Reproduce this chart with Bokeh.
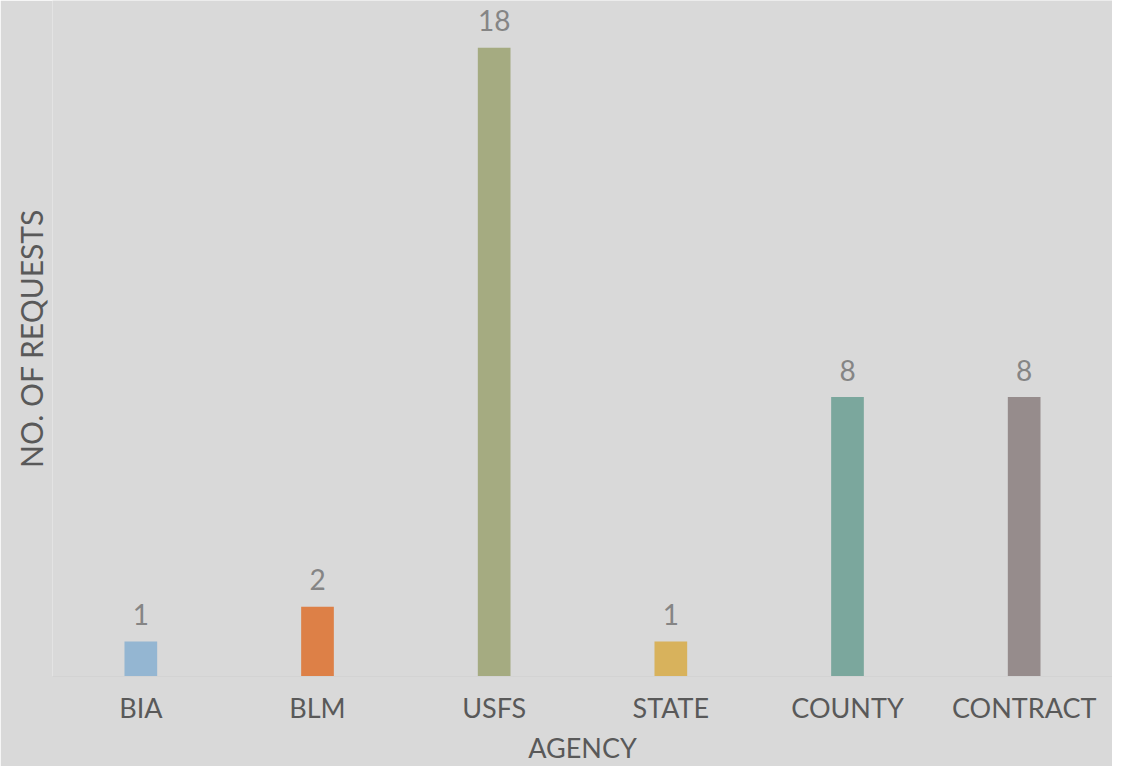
from bokeh.plotting import figure
from bokeh.models import ColumnDataSource, FactorRange, Range1d, FixedTicker
from bokeh.embed import file_html
from bokeh.resources import INLINE
from bokeh.core.properties import value

# Data
agencies = ["BIA", "BLM", "USFS", "STATE", "COUNTY", "CONTRACT"]
requests = [1, 2, 18, 1, 8, 8]
bar_colors = ["#94b6d2", "#dd8047", "#a5ab81", "#d8b25c", "#7ba79d", "#968c8c"]

BG = "#d9d9d9"
FONT = "Lato"

src = ColumnDataSource(dict(
    agency=agencies,
    n=requests,
    color=bar_colors,
    label=[str(v) for v in requests],
))

p = figure(
    width=1112, height=766,
    x_range=FactorRange(factors=agencies, range_padding=0),
    y_range=Range1d(0, 19.35),
    output_backend="svg", toolbar_location=None,
    background_fill_color=BG, border_fill_color=BG,
    outline_line_color=None,
    min_border_top=0, min_border_right=0,
    min_border_left=52, min_border_bottom=80,
)

p.vbar(x="agency", top="n", width=0.185, color="color", line_color=None, source=src)

p.text(x="agency", y="n", text="label", source=src,
       text_align="center", text_baseline="alphabetic", y_offset=-27,
       text_font=value(FONT), text_font_size="28px", text_color="#858585")

p.xgrid.grid_line_color = None
p.ygrid.grid_line_color = None

xa = p.xaxis[0]
xa.axis_label = "AGENCY"
xa.axis_label_text_font = FONT
xa.axis_label_text_font_size = "27px"
xa.axis_label_text_font_style = "normal"
xa.axis_label_text_color = "#595959"
xa.axis_label_standoff = 4
xa.major_label_text_font = FONT
xa.major_label_text_font_size = "27px"
xa.major_label_text_color = "#595959"
xa.major_label_standoff = 8
xa.major_tick_line_color = None
xa.minor_tick_line_color = None
xa.axis_line_color = "#d3d3d3"

ya = p.yaxis[0]
ya.ticker = FixedTicker(ticks=[])
ya.axis_label = "NO. OF REQUESTS"
ya.axis_label_text_font = FONT
ya.axis_label_text_font_size = "30px"
ya.axis_label_text_font_style = "normal"
ya.axis_label_text_color = "#595959"
ya.axis_label_standoff = 4
ya.major_tick_line_color = None
ya.minor_tick_line_color = None
ya.axis_line_color = None

open("out.html", "w").write(file_html(p, INLINE))
